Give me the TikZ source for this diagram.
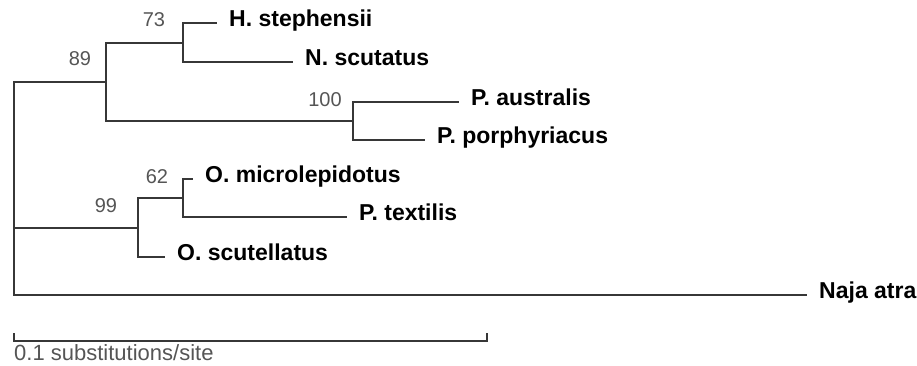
\documentclass[tikz,border=0pt]{standalone}
\usepackage{fontspec}
\setmainfont{Liberation Sans}
\usepackage{tikz}
\usetikzlibrary{positioning}
\definecolor{BranchGray}{RGB}{55,55,55}
\definecolor{BootGray}{RGB}{85,85,85}

\begin{document}
\begin{tikzpicture}[x=1pt,y=-1pt,
  taxon/.style={anchor=west,inner xsep=12pt,inner ysep=0pt,text height=0.72em,text depth=0pt,font=\fontsize{23}{27}\selectfont\bfseries},
  boot/.style={BootGray,inner sep=0pt,text height=0.72em,text depth=0pt,font=\fontsize{20}{24}\selectfont},
  branch/.style={BranchGray,line width=1.4pt}]
\useasboundingbox (0,0) rectangle (917,366);
% internal nodes of the tree
\coordinate (root) at (14,228);
\coordinate (n89) at (106,82);
\coordinate (n73) at (183,43);
\coordinate (n100) at (353,121);
\coordinate (n99) at (138,228);
\coordinate (n62) at (183,198);
% taxa
\node[taxon] (hste) at (217,23){H. stephensii};
\node[taxon] (nscu) at (293,62){N. scutatus};
\node[taxon] (paus) at (459,102){P. australis};
\node[taxon] (ppor) at (425,140){P. porphyriacus};
\node[taxon] (omic) at (193,179){O. microlepidotus};
\node[taxon] (ptex) at (347,217){P. textilis};
\node[taxon] (oscu) at (165,257){O. scutellatus};
\node[taxon] (naja) at (807,295){Naja atra};
% bootstrap values
\node[boot] (b73) at (154,23){73};
\node[boot] (b89) at (80,62){89};
\node[boot] (b100) at (325,103){100};
\node[boot] (b62) at (157,180){62};
\node[boot] (b99) at (106,209){99};
% branches
\draw[branch] (root) |- (n89);
\draw[branch] (root) -- (n99);
\draw[branch] (root) |- (naja.west);
\draw[branch] (n89) |- (n73);
\draw[branch] (n89) |- (n100);
\draw[branch] (n73) |- (hste.west);
\draw[branch] (n73) |- (nscu.west);
\draw[branch] (n100) |- (paus.west);
\draw[branch] (n100) |- (ppor.west);
\draw[branch] (n99) |- (n62);
\draw[branch] (n99) |- (oscu.west);
\draw[branch] (n62) |- (omic.west);
\draw[branch] (n62) |- (ptex.west);
% scale bar
\coordinate (sbl) at (14,341);
\coordinate (sbr) at (487,341);
\draw[branch] ([yshift=8pt]sbl) -- (sbl) -- (sbr) -- ([yshift=8pt]sbr);
\node[boot,anchor=west,font=\fontsize{22}{26}\selectfont] (sbtext) at (14,357){0.1 substitutions/site};
\end{tikzpicture}
\end{document}
